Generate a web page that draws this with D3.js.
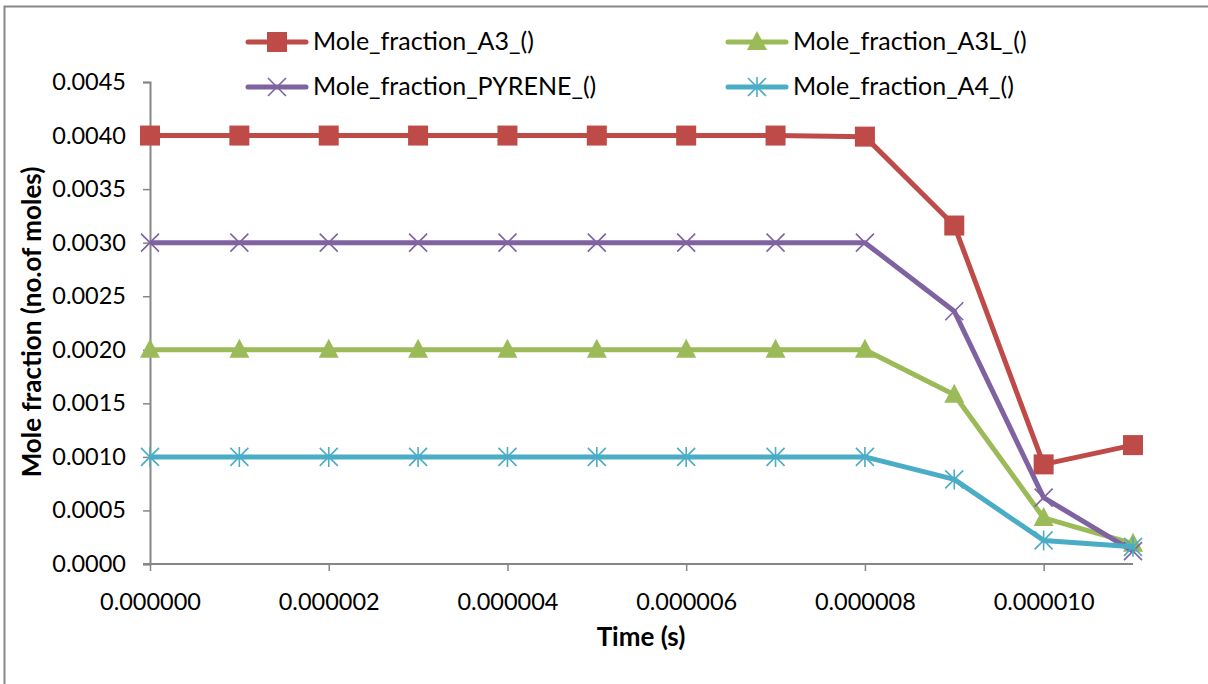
<!DOCTYPE html>
<html><head><meta charset="utf-8">
<script src="https://cdn.jsdelivr.net/npm/d3@7"></script>
<style>body{margin:0;background:#fff}svg{display:block}text{font-family:Lato,"Open Sans",sans-serif}</style>
</head><body>
<script>
const times = [0, 0.000001, 0.000002, 0.000003, 0.000004, 0.000005, 0.000006, 0.000007, 0.000008, 0.000009, 0.000010, 0.000011];
const a3 = [0.0040, 0.0040, 0.0040, 0.0040, 0.0040, 0.0040, 0.0040, 0.0040, 0.00399, 0.00316, 0.00093, 0.00111];
const a3l = [0.0020, 0.0020, 0.0020, 0.0020, 0.0020, 0.0020, 0.0020, 0.0020, 0.0020, 0.00158, 0.00043, 0.00019];
const pyrene = [0.0030, 0.0030, 0.0030, 0.0030, 0.0030, 0.0030, 0.0030, 0.0030, 0.0030, 0.00236, 0.00062, 0.00012];
const a4 = [0.0010, 0.0010, 0.0010, 0.0010, 0.0010, 0.0010, 0.0010, 0.0010, 0.0010, 0.00079, 0.00022, 0.00016];
const seriesNames = ["Mole_fraction_A3_()", "Mole_fraction_A3L_()", "Mole_fraction_PYRENE_()", "Mole_fraction_A4_()"];
const xTicks = [0, 0.000002, 0.000004, 0.000006, 0.000008, 0.000010];
const yTicks = [0, 0.0005, 0.0010, 0.0015, 0.0020, 0.0025, 0.0030, 0.0035, 0.0040, 0.0045];
const xTitle = "Time (s)";
const yTitle = "Mole fraction (no.of moles)";

const W = 1208, H = 684;
const svg = d3.select("body").append("svg").attr("width", W).attr("height", H);
svg.append("rect").attr("x", 4.5).attr("y", 6.5).attr("width", W + 10).attr("height", H + 10)
  .attr("fill", "#fff").attr("stroke", "#888").attr("stroke-width", 2);

const x = d3.scaleLinear().domain([0, 0.000011]).range([150, 1133]);
const y = d3.scaleLinear().domain([0, 0.0045]).range([564, 82]);

const series = [
  {name: seriesNames[0], values: a3, color: "#BE4B48", marker: "square"},
  {name: seriesNames[1], values: a3l, color: "#9BBB59", marker: "triangle"},
  {name: seriesNames[2], values: pyrene, color: "#7F63A1", marker: "x"},
  {name: seriesNames[3], values: a4, color: "#4BACC6", marker: "star"}
];

const axisColor = "#868686";
const gx = svg.append("g").attr("transform", `translate(0,${y(0)})`)
  .call(d3.axisBottom(x).tickValues(xTicks).tickSize(7).tickPadding(22).tickFormat(d3.format(".6f")));
const gy = svg.append("g").attr("transform", `translate(${x(0)},0)`)
  .call(d3.axisLeft(y).tickValues(yTicks).tickSize(7).tickPadding(17).tickFormat(d3.format(".4f")));
[gx, gy].forEach(g => {
  g.select(".domain").attr("stroke", axisColor).attr("stroke-width", 2);
  g.selectAll(".tick line").attr("stroke", axisColor).attr("stroke-width", 1.5);
  g.selectAll(".tick text").attr("fill", "#000").style("font-size", "23.5px").style("font-family", "Lato, sans-serif");
});
gx.select(".domain").attr("d", `M${x(0) - 7},0H${x(0.000011)}`);

svg.append("text").attr("x", 641).attr("y", 646).attr("text-anchor", "middle")
  .style("font-size", "26px").style("font-weight", "bold").text(xTitle);
svg.append("text").attr("transform", `translate(41,${(82 + 564) / 2 - 1}) rotate(-90)`).attr("text-anchor", "middle")
  .style("font-size", "26px").style("font-weight", "bold").text(yTitle);

function drawMarker(g, type, color) {
  if (type === "square") {
    g.append("rect").attr("x", -10).attr("y", -10).attr("width", 20).attr("height", 20).attr("fill", color);
  } else if (type === "triangle") {
    g.append("path").attr("d", "M0,-11L10,8L-10,8Z").attr("fill", color);
  } else if (type === "x") {
    g.append("path").attr("d", "M-9,-9L9,9M-9,9L9,-9").attr("stroke", color).attr("stroke-width", 1.6).attr("fill", "none");
  } else if (type === "star") {
    g.append("path").attr("d", "M-9,-9L9,9M-9,9L9,-9M0,-10V10").attr("stroke", color).attr("stroke-width", 1.6).attr("fill", "none");
  }
}

const line = d3.line().x((d, i) => x(times[i])).y(d => y(d));
series.forEach(s => {
  svg.append("path").datum(s.values).attr("d", line).attr("fill", "none")
    .attr("stroke", s.color).attr("stroke-width", 5).attr("stroke-linejoin", "round");
  s.values.forEach((v, i) => {
    const g = svg.append("g").attr("transform", `translate(${x(times[i])},${y(v)})`);
    drawMarker(g, s.marker, s.color);
  });
});

const legendPos = [[248, 42], [728, 42], [248, 87], [728, 87]];
series.forEach((s, i) => {
  const [lx, ly] = legendPos[i];
  svg.append("line").attr("x1", lx).attr("x2", lx + 58).attr("y1", ly).attr("y2", ly)
    .attr("stroke", s.color).attr("stroke-width", 5).attr("stroke-linecap", "round");
  const g = svg.append("g").attr("transform", `translate(${lx + 29},${ly})`);
  drawMarker(g, s.marker, s.color);
  svg.append("text").attr("x", lx + 65).attr("y", ly + 8).style("font-size", "25px").text(s.name);
});
</script>
</body></html>
